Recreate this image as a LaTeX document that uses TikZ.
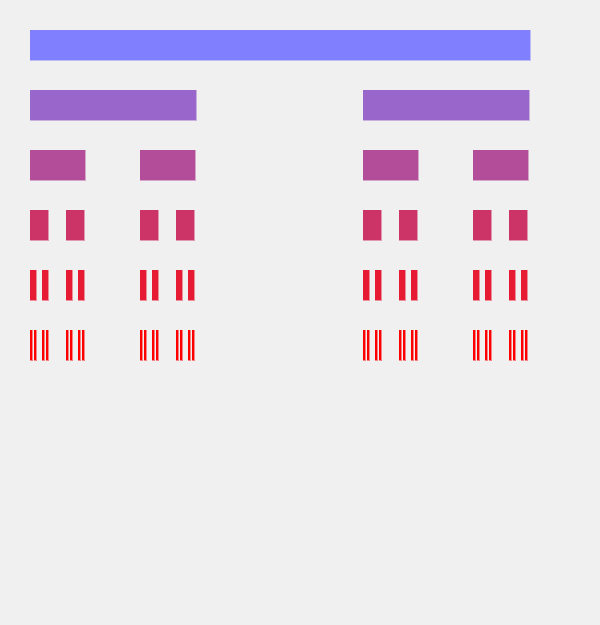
\documentclass[tikz,border=0pt]{standalone}
\usepackage{tikz}
\definecolor{bg}{HTML}{F0F0F0}
\definecolor{lev0}{HTML}{8080FF}
\definecolor{lev1}{HTML}{9966CC}
\definecolor{lev2}{HTML}{B34D99}
\definecolor{lev3}{HTML}{CC3366}
\definecolor{lev4}{HTML}{E61A33}
\definecolor{lev5}{HTML}{FF0000}
\tikzset{cantorbar/.style={fill=lev#1,draw=lev#1,draw opacity=0.45,line width=0.9pt}}
% one bar, then its two (whole-pixel) thirds one row lower
\def\cantor#1#2#3{%
  \path[cantorbar=#1] (#2,{30+60*#1}) rectangle ++(#3,30);
  \ifnum#1<5
    \pgfmathtruncatemacro\cantorw{floor(#3/3)}%
    \pgfmathtruncatemacro\cantorx{#2+floor(2*#3/3)}%
    \pgfmathtruncatemacro\cantorl{#1+1}%
    \edef\cantornext{\noexpand\cantor{\cantorl}{#2}{\cantorw}\noexpand\cantor{\cantorl}{\cantorx}{\cantorw}}%
    \cantornext
  \fi}

\begin{document}
\begin{tikzpicture}[x=1pt,y=-1pt]
\fill[bg] (0,0) rectangle (600,625);
\useasboundingbox (0,0) rectangle (600,625);
\cantor{0}{30}{500}
\end{tikzpicture}
\end{document}
